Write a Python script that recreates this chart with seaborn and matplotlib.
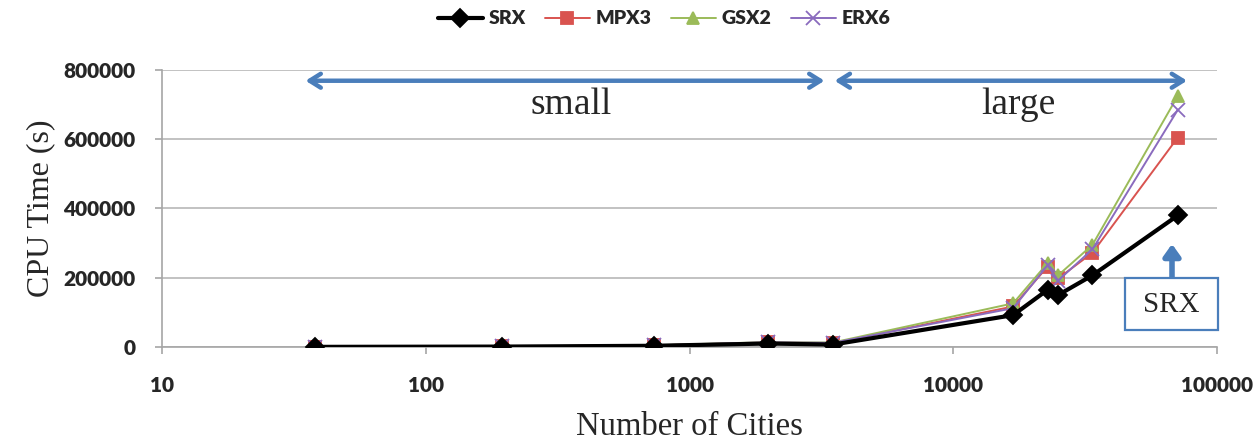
import matplotlib
matplotlib.use("Agg")
import matplotlib.pyplot as plt
import matplotlib.patches as mpatches
import seaborn as sns
import pandas as pd

# city counts of the benchmark instances
cities = [38, 194, 734, 1979, 3496, 16862, 22775, 24978, 33708, 71009]

srx = [400, 1200, 3500, 10000, 7000, 92000, 165000, 150000, 207000, 380000]
mpx3 = [600, 1600, 4500, 13000, 11000, 117000, 232000, 198000, 272000, 605000]
gsx2 = [700, 1800, 5000, 14000, 13000, 126000, 242000, 207000, 295000, 725000]
erx6 = [650, 1700, 4800, 13500, 12000, 112000, 236000, 192000, 282000, 685000]

series = {"SRX": srx, "MPX3": mpx3, "GSX2": gsx2, "ERX6": erx6}
colors = {"SRX": "#000000", "MPX3": "#D9534F", "GSX2": "#9BBB59", "ERX6": "#8A6BBE"}
markers = {"SRX": "D", "MPX3": "s", "GSX2": "^", "ERX6": "x"}
widths = {"SRX": 3.0, "MPX3": 1.4, "GSX2": 1.4, "ERX6": 1.4}

rows = []
for name, vals in series.items():
    for c, v in zip(cities, vals):
        rows.append({"cities": c, "time": v, "algo": name})
df = pd.DataFrame(rows)

sns.set_style("white")
serif = ["Liberation Serif", "DejaVu Serif"]

fig = plt.figure(figsize=(12.58, 4.46), dpi=100)
ax = fig.add_axes([162 / 1258, 1 - 347 / 446, (1217 - 162) / 1258, (347 - 70) / 446])

for name in series:
    sub = df[df["algo"] == name]
    sns.lineplot(data=sub, x="cities", y="time", ax=ax, color=colors[name],
                 marker=markers[name], markersize=9 if name != "ERX6" else 10,
                 markeredgecolor=colors[name], markeredgewidth=1.3,
                 linewidth=widths[name], label=name, legend=False, zorder=4 if name == "SRX" else 3)

ax.set_xscale("log")
ax.set_xlim(10, 100000)
ax.set_ylim(0, 800000)
ax.set_yticks(range(0, 800001, 200000))
ax.set_xticks([10, 100, 1000, 10000, 100000])
ax.set_xticklabels(["10", "100", "1000", "10000", "100000"])
ax.minorticks_off()
ax.yaxis.grid(True, color="#BDBDBD", linewidth=1.3)
ax.xaxis.grid(False)
for s in ["top", "right"]:
    ax.spines[s].set_visible(False)
for s in ["left", "bottom"]:
    ax.spines[s].set_color("#A6A6A6")
    ax.spines[s].set_linewidth(1.2)
ax.tick_params(axis="both", direction="out", length=5, color="#A6A6A6", width=1.2,
               bottom=True, left=True)
ax.tick_params(axis="x", pad=16)
ax.tick_params(axis="y", pad=14)
for lab in ax.get_xticklabels() + ax.get_yticklabels():
    lab.set_fontfamily("Lato")
    lab.set_fontweight("heavy")
    lab.set_fontsize(15)

ax.set_xlabel("Number of Cities", fontfamily=serif, fontsize=23.5, labelpad=12)
ax.set_ylabel("CPU Time (s)", fontfamily=serif, fontsize=23, labelpad=6)

# region arrows
blue = "#4A7EBB"
ax.annotate("", xy=(35, 769000), xytext=(3250, 769000),
            arrowprops=dict(arrowstyle="<->,head_length=0.8,head_width=0.5", color=blue, lw=3.2,
                            shrinkA=0, shrinkB=0))
ax.annotate("", xy=(3550, 769000), xytext=(77000, 769000),
            arrowprops=dict(arrowstyle="<->,head_length=0.8,head_width=0.5", color=blue, lw=3.2,
                            shrinkA=0, shrinkB=0), annotation_clip=False)
ax.text(357, 700000, "small", fontfamily=serif, fontsize=27, ha="center", va="center")
ax.text(17600, 700000, "large", fontfamily=serif, fontsize=27, ha="center", va="center")

# SRX callout
box = mpatches.Rectangle((1125 / 1258, 1 - 330 / 446), 93 / 1258, 52 / 446,
                         transform=fig.transFigure, facecolor="white", edgecolor=blue,
                         linewidth=1.6, zorder=5)
fig.patches.append(box)
fig.text(1171 / 1258, 1 - 305 / 446, "SRX", fontfamily=serif, fontsize=21,
         ha="center", va="center", zorder=6)
ax.annotate("", xy=(1172 / 1258, 1 - 244 / 446), xytext=(1172 / 1258, 1 - 279 / 446),
            xycoords="figure fraction", textcoords="figure fraction",
            arrowprops=dict(arrowstyle="-|>,head_length=0.7,head_width=0.5", color=blue, lw=4,
                            shrinkA=0, shrinkB=0))

handles, labels = ax.get_legend_handles_labels()
leg = fig.legend(handles, labels, loc="center", bbox_to_anchor=(664 / 1258, 1 - 19 / 446),
                 ncol=4, frameon=False, handlelength=2.3, columnspacing=1.0, handletextpad=0.3,
                 prop={"family": "Lato", "weight": "heavy", "size": 14})

fig.savefig("out.png", dpi=100)
